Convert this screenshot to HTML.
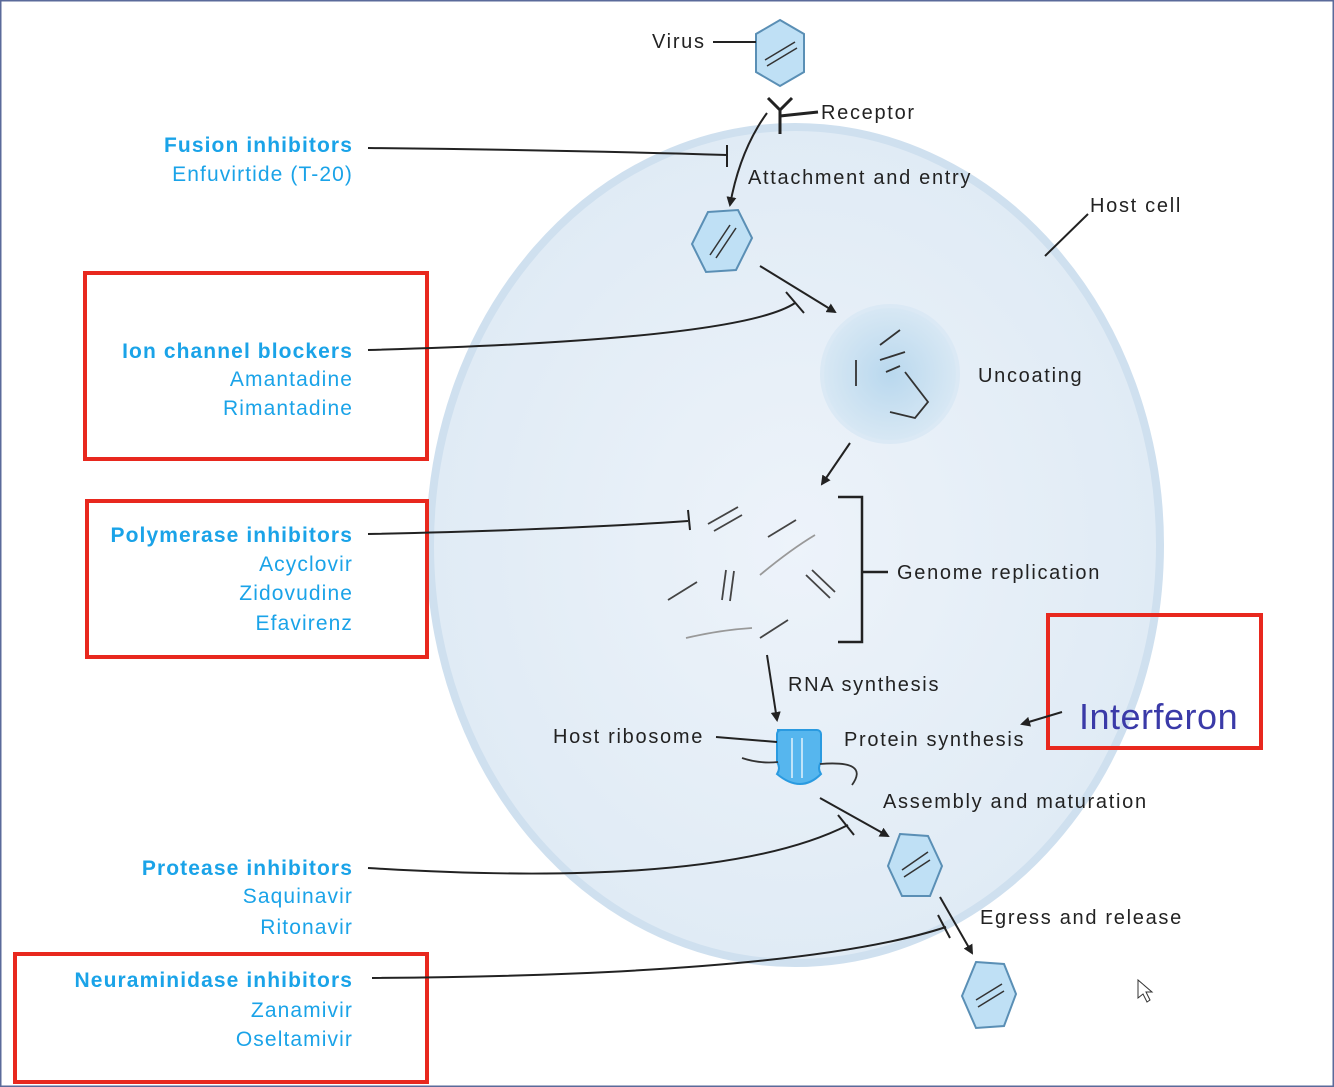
<!DOCTYPE html>
<html><head><style>
body{margin:0;background:#fff;}
svg{display:block}
text{font-family:"Liberation Sans",sans-serif;}
.b{fill:#1aa3e8;font-weight:bold;font-size:21px;text-anchor:end;letter-spacing:1.1px}
.d{fill:#1aa3e8;font-size:21px;text-anchor:end;letter-spacing:1.1px}
.k{fill:#222;font-size:20px;letter-spacing:1.7px}
</style></head><body>
<svg width="1334" height="1087" viewBox="0 0 1334 1087">
<defs>
<marker id="a" markerWidth="10" markerHeight="10" refX="8" refY="5" orient="auto" markerUnits="userSpaceOnUse"><path d="M0,0 L10,5 L0,10 z" fill="#222"/></marker>
<radialGradient id="g" cx="0.5" cy="0.5" r="0.5"><stop offset="0" stop-color="#edf3fa"/><stop offset="1" stop-color="#e0ebf5"/></radialGradient>
<radialGradient id="u" cx="0.5" cy="0.5" r="0.5"><stop offset="0" stop-color="#b9d8ee"/><stop offset="1" stop-color="#d8e8f4"/></radialGradient>
</defs>
<rect x="0.5" y="0.5" width="1333" height="1086" fill="#fff" stroke="#5a6a9a" stroke-width="2"/>
<ellipse cx="795" cy="545" rx="365" ry="418" fill="url(#g)" stroke="#cfe0ef" stroke-width="8"/>
<polygon points="780,20 804,34 804,72 780,86 756,72 756,34" fill="#bfe0f5" stroke="#5a8fb5" stroke-width="2"/>
<line x1="765" y1="60" x2="795" y2="42" stroke="#333" stroke-width="1.5"/><line x1="767" y1="66" x2="797" y2="48" stroke="#333" stroke-width="1.5"/>
<text class="k" x="652" y="48">Virus</text><line x1="713" y1="42" x2="756" y2="42" stroke="#222" stroke-width="2"/>
<path d="M768,98 L780,110 L792,98 M780,110 L780,134 M780,116 L818,112" stroke="#222" stroke-width="3" fill="none"/>
<text class="k" x="821" y="119">Receptor</text>
<path d="M767,113 Q740,150 730,205" stroke="#222" stroke-width="2" fill="none" marker-end="url(#a)"/>
<text class="k" x="748" y="184">Attachment and entry</text>
<text class="b" x="353" y="152">Fusion inhibitors</text><text class="d" x="353" y="181">Enfuvirtide (T-20)</text>
<path d="M368,148 Q560,150 727,155" stroke="#222" stroke-width="2" fill="none"/><line x1="727" y1="145" x2="727" y2="167" stroke="#222" stroke-width="2"/>
<polygon points="708,212 738,210 752,238 736,270 706,272 692,244" fill="#bfe0f5" stroke="#5a8fb5" stroke-width="2"/>
<line x1="710" y1="255" x2="730" y2="225" stroke="#333" stroke-width="1.5"/><line x1="716" y1="258" x2="736" y2="228" stroke="#333" stroke-width="1.5"/>
<text class="k" x="1090" y="212">Host cell</text><line x1="1088" y1="214" x2="1045" y2="256" stroke="#222" stroke-width="2"/>
<line x1="760" y1="266" x2="835" y2="312" stroke="#222" stroke-width="2" marker-end="url(#a)"/>
<rect x="85" y="273" width="342" height="186" fill="none" stroke="#e8281e" stroke-width="4"/>
<text class="b" x="353" y="358">Ion channel blockers</text><text class="d" x="353" y="386">Amantadine</text><text class="d" x="353" y="415">Rimantadine</text>
<path d="M368,350 Q740,340 795,303" stroke="#222" stroke-width="2" fill="none"/><line x1="786" y1="292" x2="804" y2="313" stroke="#222" stroke-width="2"/>
<circle cx="890" cy="374" r="68" fill="url(#u)" stroke="#dbe9f5" stroke-width="4"/>
<path d="M880,345 L900,330 M880,360 L905,352 M886,372 L900,366 M856,360 L856,386 M905,372 L928,402 L915,418 L890,412" stroke="#333" stroke-width="1.8" fill="none"/>
<text class="k" x="978" y="382">Uncoating</text>
<line x1="850" y1="443" x2="822" y2="484" stroke="#222" stroke-width="2" marker-end="url(#a)"/>
<g stroke="#444" stroke-width="1.8" fill="none">
<line x1="708" y1="524" x2="738" y2="507"/><line x1="714" y1="531" x2="742" y2="515"/>
<line x1="768" y1="537" x2="796" y2="520"/>
<path d="M760,575 Q790,550 815,535" stroke="#999"/>
<line x1="668" y1="600" x2="697" y2="582"/>
<line x1="722" y1="600" x2="726" y2="570"/><line x1="730" y1="601" x2="734" y2="571"/>
<line x1="806" y1="575" x2="830" y2="598"/><line x1="812" y1="570" x2="835" y2="592"/>
<path d="M686,638 Q720,630 752,628" stroke="#999"/><line x1="760" y1="638" x2="788" y2="620"/>
</g>
<path d="M838,497 L862,497 L862,642 L838,642 M862,572 L888,572" stroke="#222" stroke-width="2.5" fill="none"/>
<text class="k" x="897" y="579">Genome replication</text>
<rect x="87" y="501" width="340" height="156" fill="none" stroke="#e8281e" stroke-width="4"/>
<text class="b" x="353" y="542">Polymerase inhibitors</text><text class="d" x="353" y="571">Acyclovir</text><text class="d" x="353" y="600">Zidovudine</text><text class="d" x="353" y="630">Efavirenz</text>
<path d="M368,534 Q560,530 688,521" stroke="#222" stroke-width="2" fill="none"/><line x1="688" y1="510" x2="690" y2="530" stroke="#222" stroke-width="2"/>
<line x1="767" y1="655" x2="777" y2="720" stroke="#222" stroke-width="2" marker-end="url(#a)"/>
<text class="k" x="788" y="691">RNA synthesis</text>
<path d="M777,730 h40 a4,4 0 0 1 4,4 v28 q-4,6 0,12 q-20,20 -44,0 q4,-6 0,-12 v-28 a4,4 0 0 1 4,-4z" fill="#56b6ee" stroke="#2a9ae0" stroke-width="2"/>
<line x1="792" y1="738" x2="792" y2="778" stroke="#bfe3f8" stroke-width="2"/><line x1="802" y1="738" x2="802" y2="778" stroke="#bfe3f8" stroke-width="2"/>
<path d="M742,758 Q760,764 778,762 M820,764 Q870,760 852,785" stroke="#333" stroke-width="1.8" fill="none"/>
<text class="k" x="553" y="743">Host ribosome</text><line x1="716" y1="737" x2="777" y2="742" stroke="#222" stroke-width="2"/>
<text class="k" x="844" y="746">Protein synthesis</text>
<rect x="1048" y="615" width="213" height="133" fill="none" stroke="#e8281e" stroke-width="4"/>
<text x="1079" y="729" style="font-size:36px;fill:#3a3aa8;letter-spacing:0.5px">Interferon</text>
<line x1="1062" y1="712" x2="1022" y2="724" stroke="#222" stroke-width="2" marker-end="url(#a)"/>
<text class="k" x="883" y="808">Assembly and maturation</text>
<line x1="820" y1="798" x2="888" y2="836" stroke="#222" stroke-width="2" marker-end="url(#a)"/>
<text class="b" x="353" y="875">Protease inhibitors</text><text class="d" x="353" y="903">Saquinavir</text><text class="d" x="353" y="934">Ritonavir</text>
<path d="M368,868 Q720,890 848,825" stroke="#222" stroke-width="2" fill="none"/><line x1="838" y1="815" x2="854" y2="835" stroke="#222" stroke-width="2"/>
<polygon points="900,834 928,836 942,866 930,896 902,896 888,866" fill="#bfe0f5" stroke="#5a8fb5" stroke-width="2"/>
<line x1="902" y1="870" x2="928" y2="852" stroke="#333" stroke-width="1.5"/><line x1="904" y1="877" x2="930" y2="860" stroke="#333" stroke-width="1.5"/>
<line x1="940" y1="897" x2="972" y2="953" stroke="#222" stroke-width="2" marker-end="url(#a)"/>
<text class="k" x="980" y="924">Egress and release</text>
<rect x="15" y="954" width="412" height="128" fill="none" stroke="#e8281e" stroke-width="4"/>
<text class="b" x="353" y="987">Neuraminidase inhibitors</text><text class="d" x="353" y="1017">Zanamivir</text><text class="d" x="353" y="1046">Oseltamivir</text>
<path d="M372,978 Q800,975 946,927" stroke="#222" stroke-width="2" fill="none"/><line x1="938" y1="915" x2="950" y2="938" stroke="#222" stroke-width="2"/>
<polygon points="976,962 1004,964 1016,994 1004,1026 976,1028 962,996" fill="#bfe0f5" stroke="#5a8fb5" stroke-width="2"/>
<line x1="976" y1="1000" x2="1002" y2="984" stroke="#333" stroke-width="1.5"/><line x1="978" y1="1007" x2="1004" y2="991" stroke="#333" stroke-width="1.5"/>
<path d="M1138,980 L1138,998 L1143,994 L1147,1002 L1150,1000 L1146,992 L1152,992 z" fill="#fff" stroke="#333" stroke-width="1"/>
</svg>
</body></html>
